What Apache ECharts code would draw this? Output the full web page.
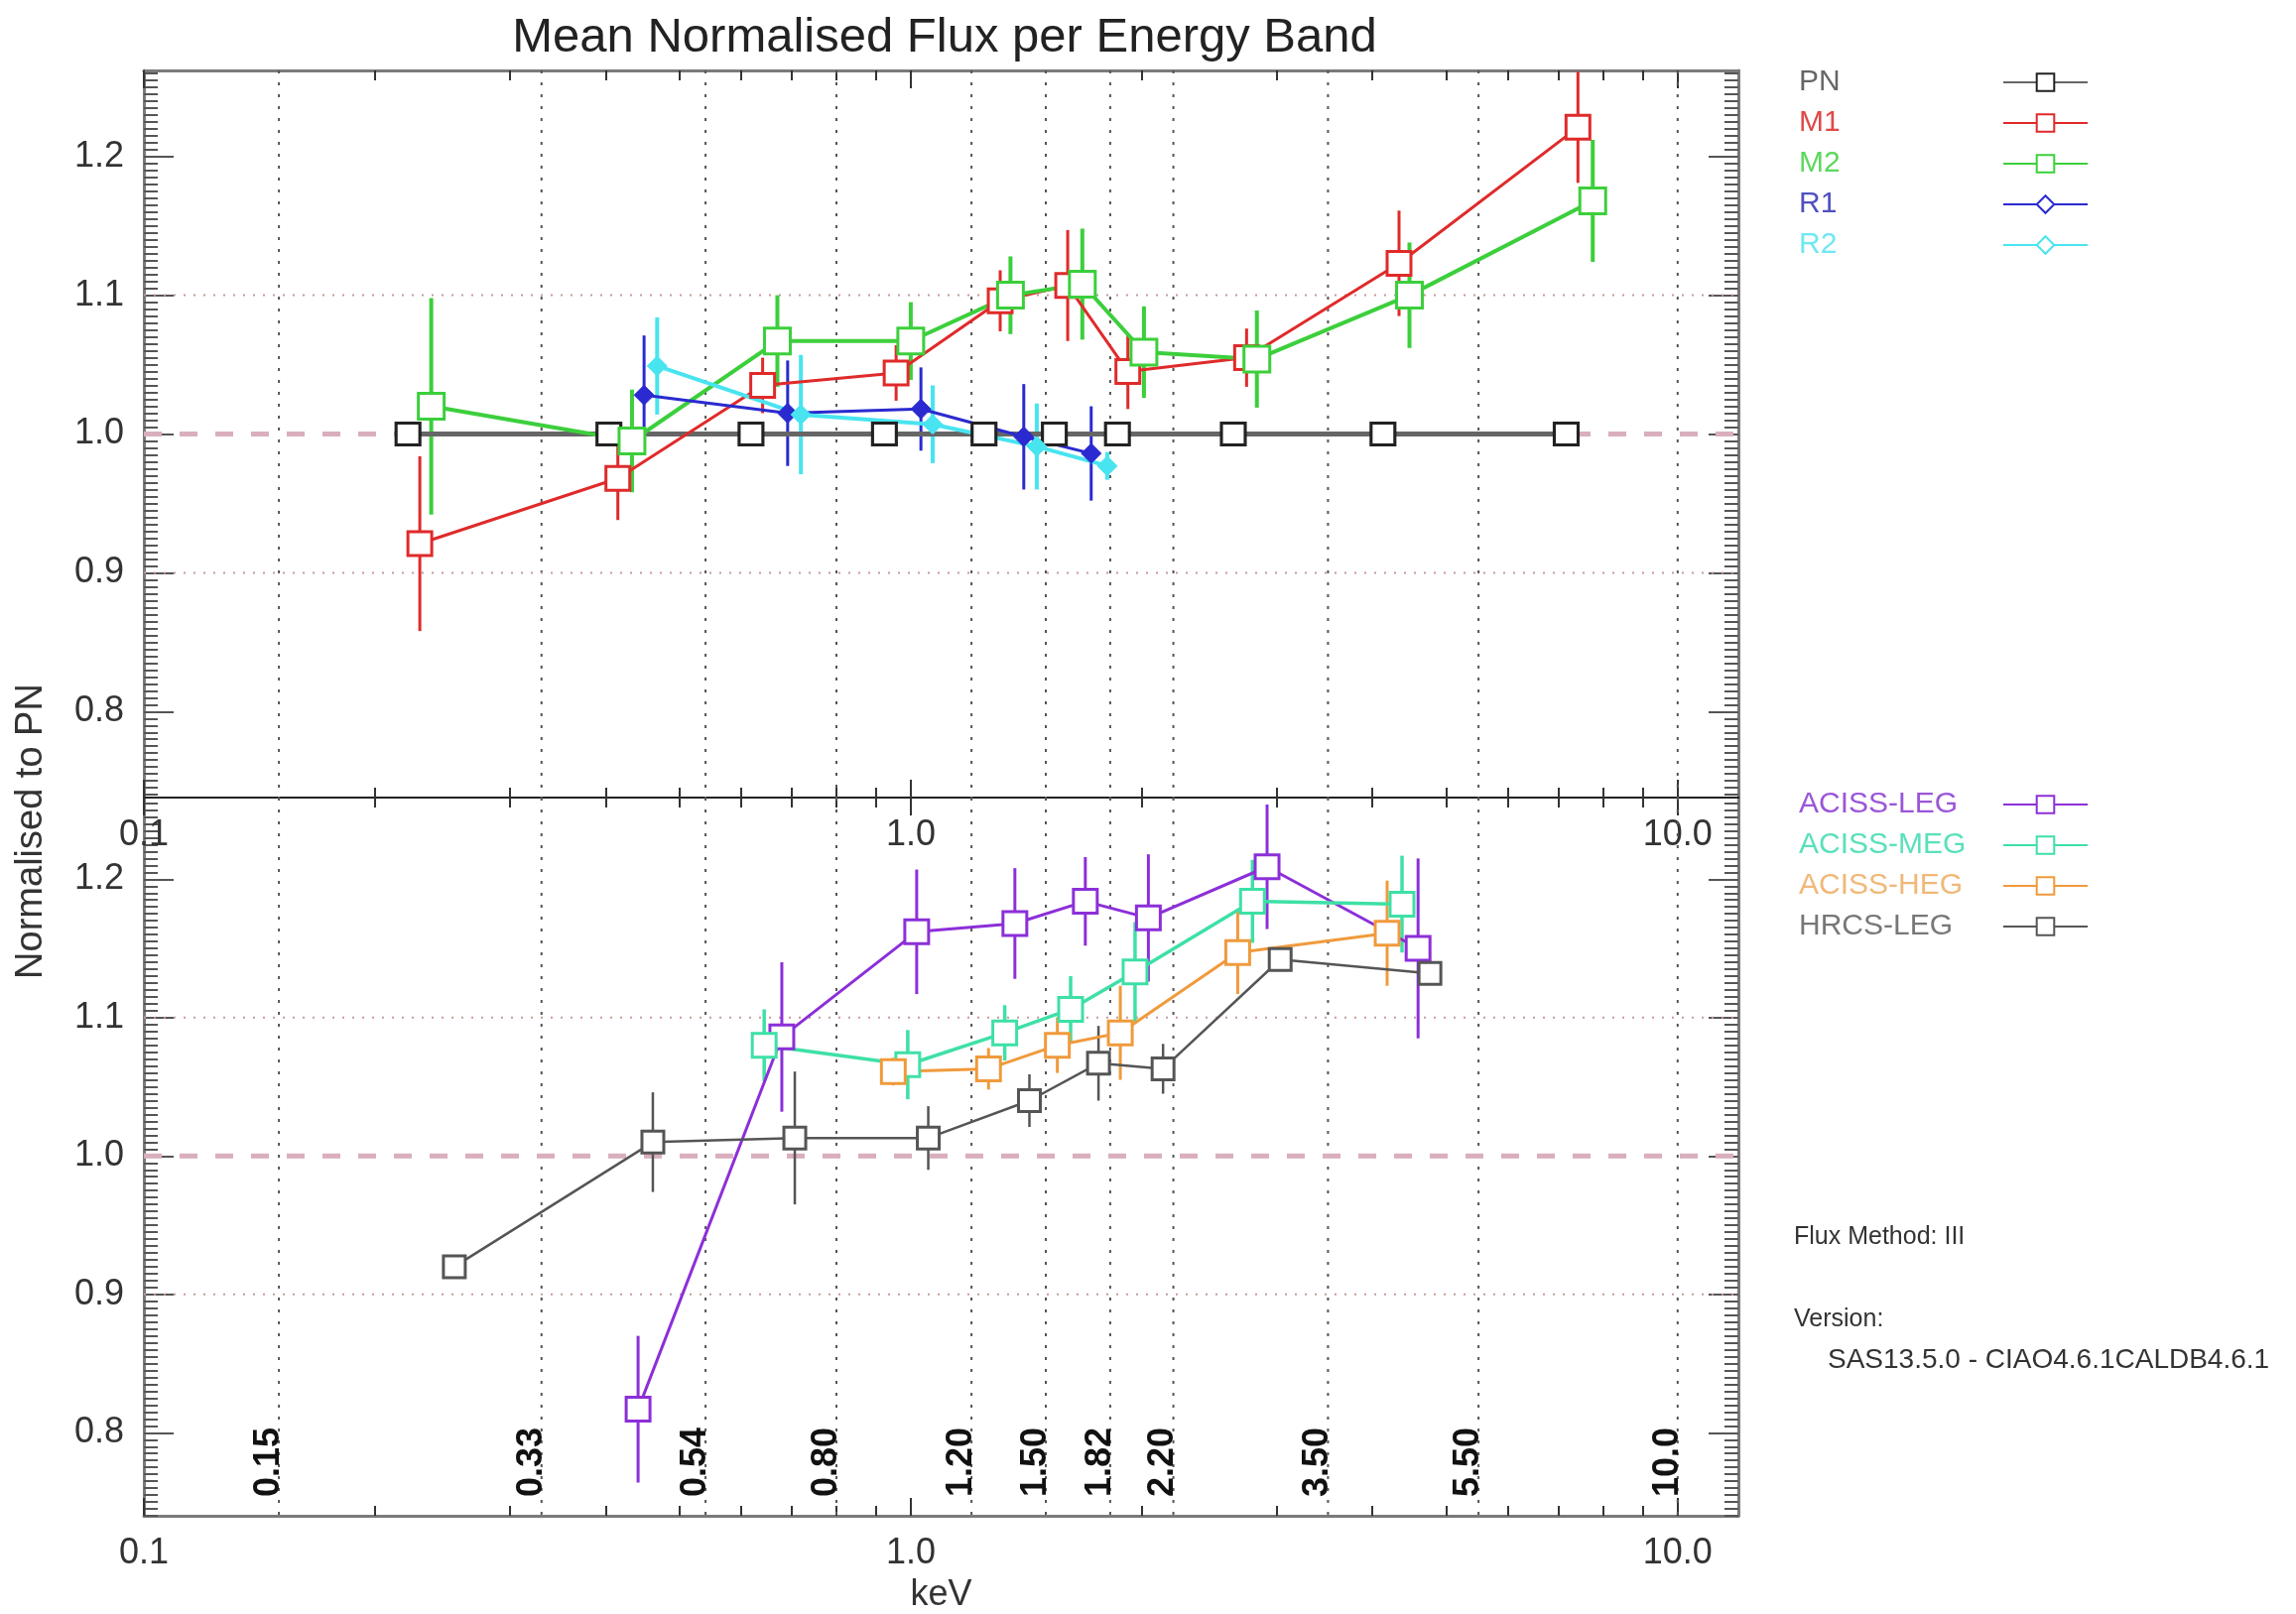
<!DOCTYPE html>
<html>
<head>
<meta charset="utf-8">
<title>Mean Normalised Flux per Energy Band</title>
<script src="https://cdn.jsdelivr.net/npm/echarts@6/dist/echarts.min.js"></script>
<style>
  html, body { margin: 0; padding: 0; background: #fff; }
  #main { width: 2314px; height: 1627px; }
</style>
</head>
<body>
<div id="main"></div>
<script>
const FONT = '"Liberation Sans", Helvetica, Arial, sans-serif'

// energy band edges (keV)
const bandEdges = [0.15, 0.33, 0.54, 0.80, 1.20, 1.50, 1.82, 2.20, 3.50, 5.50, 10.0]
const bandLabels = ['0.15', '0.33', '0.54', '0.80', '1.20', '1.50', '1.82', '2.20', '3.50', '5.50', '10.0']
const refLevels = [0.9, 1.0, 1.1]

// axis ticks / labels
const xLabelValues = [0.1, 1, 10]
const xMajorTicks = [0.1, 1, 10]
const xMinorTicks = [0.2, 0.3, 0.4, 0.5, 0.6, 0.7, 0.8, 0.9, 2, 3, 4, 5, 6, 7, 8, 9]
const yLabelValues = [0.8, 0.9, 1.0, 1.1, 1.2]
const yMinorTicks = []
for (let i = 148; i <= 252; i++) yMinorTicks.push(i / 200)

// top panel (XMM)
const pnE = [0.221, 0.404, 0.619, 0.924, 1.246, 1.539, 1.860, 2.634, 4.128, 7.156]
const pnY = [1.0, 1.0, 1.0, 1.0, 1.0, 1.0, 1.0, 1.0, 1.0, 1.0]

const m1E = [0.229, 0.415, 0.641, 0.957, 1.308, 1.602, 1.919, 2.741, 4.332, 7.413]
const m1Y = [0.921, 0.968, 1.035, 1.044, 1.096, 1.107, 1.045, 1.055, 1.123, 1.221]
const m1Err = [0.063, 0.030, 0.020, 0.020, 0.022, 0.040, 0.027, 0.021, 0.038, 0.040]

const m2E = [0.237, 0.433, 0.670, 1.000, 1.349, 1.674, 2.014, 2.827, 4.470, 7.750]
const m2Y = [1.020, 0.995, 1.067, 1.067, 1.100, 1.108, 1.059, 1.054, 1.100, 1.168]
const m2Err = [0.078, 0.037, 0.033, 0.028, 0.028, 0.040, 0.033, 0.035, 0.038, 0.044]

const r1E = [0.449, 0.691, 1.031, 1.404, 1.719]
const r1Y = [1.028, 1.015, 1.018, 0.998, 0.986]
const r1Err = [0.043, 0.038, 0.030, 0.038, 0.034]

const r2E = [0.467, 0.719, 1.068, 1.460, 1.804]
const r2Y = [1.049, 1.014, 1.007, 0.991, 0.977]
const r2Err = [0.035, 0.043, 0.028, 0.031, 0.010]

// bottom panel (Chandra)
const legE = [0.441, 0.679, 1.018, 1.367, 1.689, 2.041, 2.915, 4.587]
const legY = [0.817, 1.086, 1.162, 1.168, 1.184, 1.172, 1.209, 1.150]
const legErr = [0.053, 0.054, 0.045, 0.040, 0.032, 0.046, 0.045, 0.065]

const megE = [0.644, 0.991, 1.326, 1.616, 1.961, 2.790, 4.371]
const megY = [1.080, 1.066, 1.089, 1.106, 1.133, 1.184, 1.182]
const megErr = [0.026, 0.025, 0.020, 0.024, 0.036, 0.030, 0.035]

const hegE = [0.949, 1.263, 1.553, 1.876, 2.669, 4.180]
const hegY = [1.061, 1.063, 1.080, 1.089, 1.147, 1.161]
const hegErr = [0.010, 0.015, 0.020, 0.034, 0.030, 0.038]

const hrcE = [0.254, 0.461, 0.706, 1.054, 1.428, 1.757, 2.133, 3.032, 4.753]
const hrcY = [0.920, 1.010, 1.013, 1.013, 1.040, 1.067, 1.063, 1.142, 1.132]
const hrcErr = [0, 0.036, 0.048, 0.023, 0.019, 0.027, 0.018, 0, 0]

const topNames = ['PN', 'M1', 'M2', 'R1', 'R2']
const topColors = ['#222', '#e02a2a', '#3ccf3c', '#2a2ad0', '#48e4f0']
const topLegendColors = ['#666', '#e04848', '#5cd85c', '#5050c0', '#70e8f2']
const botNames = ['ACISS-LEG', 'ACISS-MEG', 'ACISS-HEG', 'HRCS-LEG']
const botLegendColors = ['#9a56d8', '#5ae0bc', '#f0b878', '#777']

const xMin = 0.1
const xMax = 12
const frameLine = { color: '#7a7a7a', width: 3 }
const dividerLine = { color: '#222', width: 2 }
const tickStyle = { color: '#333', width: 2 }

function xAxes(grid, bottomLine, topLine, withName) {
  const base = { type: 'log', logBase: 10, gridIndex: grid, min: xMin, max: xMax, splitLine: { show: false } }
  return [
    Object.assign({}, base, {
      position: 'bottom',
      axisLine: { onZero: false, lineStyle: bottomLine },
      axisTick: { inside: true, length: 10, customValues: xMinorTicks, lineStyle: tickStyle },
      axisLabel: {
        customValues: xLabelValues,
        formatter: v => Number(v).toFixed(1),
        fontSize: 36, margin: 20, color: '#333', fontFamily: FONT
      },
      name: withName ? 'keV' : '',
      nameLocation: 'middle',
      nameGap: 62,
      nameTextStyle: { fontSize: 36, color: '#333', fontFamily: FONT }
    }),
    Object.assign({}, base, {
      position: 'top',
      axisLine: { onZero: false, lineStyle: topLine },
      axisTick: { inside: true, length: 10, customValues: xMinorTicks, lineStyle: tickStyle },
      axisLabel: { show: false }
    }),
    Object.assign({}, base, {
      position: 'bottom',
      axisLine: { show: false },
      axisTick: { inside: true, length: 18, customValues: xMajorTicks, lineStyle: tickStyle },
      axisLabel: { show: false }
    }),
    Object.assign({}, base, {
      position: 'top',
      axisLine: { show: false },
      axisTick: { inside: true, length: 18, customValues: xMajorTicks, lineStyle: tickStyle },
      axisLabel: { show: false }
    })
  ]
}

function yAxes(grid, min, max) {
  const base = { type: 'value', gridIndex: grid, min: min, max: max, splitLine: { show: false } }
  return [
    Object.assign({}, base, {
      position: 'left',
      axisLine: { onZero: false, lineStyle: frameLine },
      axisTick: { inside: true, length: 14, customValues: yMinorTicks, lineStyle: { color: '#555', width: 2 } },
      axisLabel: {
        customValues: yLabelValues,
        formatter: v => Number(v).toFixed(1),
        fontSize: 36, margin: 20, color: '#333', fontFamily: FONT
      }
    }),
    Object.assign({}, base, {
      position: 'right',
      axisLine: { onZero: false, lineStyle: frameLine },
      axisTick: { inside: true, length: 14, customValues: yMinorTicks, lineStyle: { color: '#555', width: 2 } },
      axisLabel: { show: false }
    }),
    Object.assign({}, base, {
      position: 'left',
      axisLine: { show: false },
      axisTick: { inside: true, length: 30, customValues: yLabelValues, lineStyle: { color: '#555', width: 2 } },
      axisLabel: { show: false }
    }),
    Object.assign({}, base, {
      position: 'right',
      axisLine: { show: false },
      axisTick: { inside: true, length: 30, customValues: yLabelValues, lineStyle: { color: '#555', width: 2 } },
      axisLabel: { show: false }
    })
  ]
}

// series helpers
function dataLine(name, xs, ys, color, axis, opt) {
  return {
    type: 'line',
    name: name,
    xAxisIndex: axis,
    yAxisIndex: axis,
    data: xs.map((x, i) => [x, ys[i]]),
    symbol: opt.symbol || 'rect',
    symbolSize: opt.size || 24,
    lineStyle: { color: opt.lineColor || color, width: opt.width || 3 },
    itemStyle: {
      color: opt.filled ? color : '#fff',
      borderColor: opt.border || color,
      borderWidth: opt.filled ? 1 : 3
    },
    emphasis: { disabled: true },
    animation: false,
    z: 3
  }
}

function errorBars(xs, ys, errs, color, width, axis) {
  return {
    type: 'custom',
    xAxisIndex: axis,
    yAxisIndex: axis,
    clip: true,
    data: xs.map((x, i) => [x, ys[i] - errs[i], ys[i] + errs[i]]),
    encode: { x: 0, y: [1, 2] },
    renderItem: function (params, api) {
      const lo = api.coord([api.value(0), api.value(1)])
      const hi = api.coord([api.value(0), api.value(2)])
      return {
        type: 'line',
        shape: { x1: lo[0], y1: lo[1], x2: hi[0], y2: hi[1] },
        style: { stroke: color, lineWidth: width }
      }
    },
    silent: true,
    animation: false,
    z: 3
  }
}

// dotted verticals at band edges, with rotated labels on the lower panel
function bandLines(axis, withLabels) {
  return {
    type: 'custom',
    xAxisIndex: axis,
    yAxisIndex: axis,
    data: bandEdges.map((v, i) => [v, i]),
    encode: { x: 0 },
    renderItem: function (params, api) {
      const cs = params.coordSys
      const x = api.coord([api.value(0), 1])[0]
      const children = [{
        type: 'line',
        shape: { x1: x, y1: cs.y, x2: x, y2: cs.y + cs.height },
        style: { stroke: '#555', lineWidth: 2, lineDash: [3, 9] }
      }]
      if (withLabels) {
        children.push({
          type: 'text',
          x: x + 8,
          y: cs.y + cs.height - 54,
          rotation: Math.PI / 2,
          style: {
            text: bandLabels[api.value(1)],
            fontSize: 36, fontWeight: 'bold', fontFamily: FONT,
            fill: '#111', align: 'center', verticalAlign: 'bottom'
          }
        })
      }
      return { type: 'group', children: children }
    },
    silent: true,
    animation: false,
    z: 1
  }
}

function refLines(axis) {
  return {
    type: 'custom',
    xAxisIndex: axis,
    yAxisIndex: axis,
    data: refLevels.map(v => [v]),
    encode: { y: 0 },
    renderItem: function (params, api) {
      const cs = params.coordSys
      const v = api.value(0)
      const y = api.coord([1, v])[1]
      const dashed = Math.abs(v - 1) < 1e-6
      return {
        type: 'line',
        shape: { x1: cs.x, y1: y, x2: cs.x + cs.width, y2: y },
        style: dashed
          ? { stroke: '#d9aebd', lineWidth: 5, lineDash: [18, 18] }
          : { stroke: '#c79a9a', lineWidth: 2, lineDash: [2, 8] }
      }
    },
    silent: true,
    animation: false,
    z: 1
  }
}

function legendBlock(names, textColors, iconColors, top) {
  return {
    data: names.map((n, i) => ({
      name: n,
      textStyle: { color: textColors[i] },
      itemStyle: iconColors ? { color: '#fff', borderColor: iconColors[i], borderWidth: 2 } : undefined
    })),
    formatter: n => '{t|' + n + '}',
    textStyle: {
      fontSize: 30,
      fontFamily: FONT,
      rich: { t: { width: 201, align: 'left', fontSize: 30, lineHeight: 22 } }
    },
    align: 'right',
    orient: 'vertical',
    left: 1808,
    top: top,
    itemWidth: 85,
    itemHeight: 22,
    itemGap: 11,
    lineStyle: { width: 2 },
    selectedMode: false
  }
}

const chart = echarts.init(document.getElementById('main'), null, { renderer: 'canvas' })

const option = {
  backgroundColor: '#fff',
  animation: false,
  title: {
    text: 'Mean Normalised Flux per Energy Band',
    left: 947,
    top: 9,
    textAlign: 'center',
    textStyle: { fontSize: 49, fontWeight: 'normal', color: '#222', fontFamily: FONT }
  },
  grid: [
    { left: 145, top: 71, width: 1607, height: 733 },
    { left: 145, top: 804, width: 1607, height: 727 }
  ],
  xAxis: xAxes(0, dividerLine, frameLine, false).concat(xAxes(1, frameLine, dividerLine, true)),
  yAxis: yAxes(0, 0.738, 1.262).concat(yAxes(1, 0.740, 1.259)),
  legend: [
    legendBlock(topNames, topLegendColors, topColors, 63),
    legendBlock(botNames, botLegendColors, null, 791)
  ],
  graphic: [
    {
      type: 'text', x: 32, y: 838, rotation: Math.PI / 2,
      style: { text: 'Normalised to PN', fontSize: 38, fontFamily: FONT, fill: '#333', align: 'center', verticalAlign: 'middle' }
    },
    {
      type: 'text', x: 1808, y: 1247,
      style: { text: 'Flux Method: III', fontSize: 25, fontFamily: FONT, fill: '#333', verticalAlign: 'middle' }
    },
    {
      type: 'text', x: 1808, y: 1330,
      style: { text: 'Version:', fontSize: 25, fontFamily: FONT, fill: '#333', verticalAlign: 'middle' }
    },
    {
      type: 'text', x: 1842, y: 1371,
      style: { text: 'SAS13.5.0 - CIAO4.6.1CALDB4.6.1', fontSize: 28, fontFamily: FONT, fill: '#333', verticalAlign: 'middle' }
    }
  ],
  series: [
    // top panel
    dataLine('PN', pnE, pnY, '#222', 0, { lineColor: '#666', width: 5, size: [24, 22] }),
    dataLine('M1', m1E, m1Y, '#e02a2a', 0, { width: 3 }),
    dataLine('M2', m2E, m2Y, '#3ccf3c', 0, { width: 4, size: 26 }),
    dataLine('R1', r1E, r1Y, '#2a2ad0', 0, { symbol: 'diamond', size: 20, filled: true, width: 3 }),
    dataLine('R2', r2E, r2Y, '#48e4f0', 0, { symbol: 'diamond', size: 20, filled: true, width: 4 }),
    errorBars(m1E, m1Y, m1Err, '#e02a2a', 3, 0),
    errorBars(m2E, m2Y, m2Err, '#3ccf3c', 4, 0),
    errorBars(r1E, r1Y, r1Err, '#2a2ad0', 3, 0),
    errorBars(r2E, r2Y, r2Err, '#48e4f0', 4, 0),
    bandLines(0, false),
    refLines(0),
    // bottom panel
    dataLine('ACISS-LEG', legE, legY, '#8c2fd8', 4, { width: 3 }),
    dataLine('ACISS-MEG', megE, megY, '#3ee0a6', 4, { width: 3.5 }),
    dataLine('ACISS-HEG', hegE, hegY, '#f09a3c', 4, { width: 3 }),
    dataLine('HRCS-LEG', hrcE, hrcY, '#555', 4, { width: 2.5, size: 22 }),
    errorBars(legE, legY, legErr, '#8c2fd8', 3, 4),
    errorBars(megE, megY, megErr, '#3ee0a6', 3.5, 4),
    errorBars(hegE, hegY, hegErr, '#f09a3c', 3, 4),
    errorBars(hrcE, hrcY, hrcErr, '#555', 2.5, 4),
    bandLines(4, true),
    refLines(4)
  ]
}

chart.setOption(option)
</script>
</body>
</html>
